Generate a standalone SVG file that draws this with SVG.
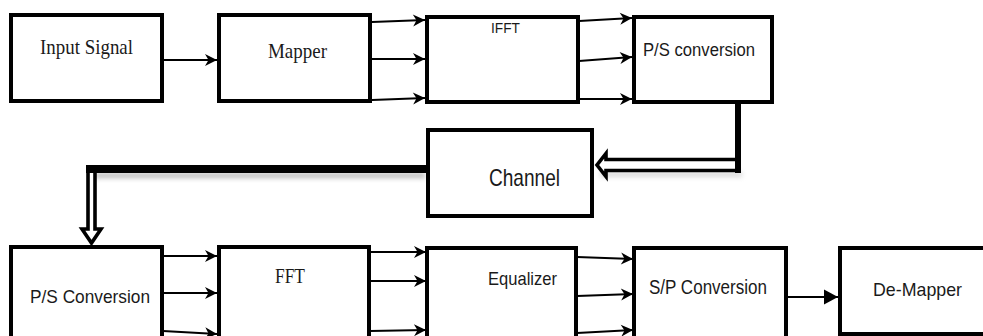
<svg xmlns="http://www.w3.org/2000/svg" width="983" height="336" viewBox="0 0 983 336">
  <defs>
    <style>
      .box { fill: #ffffff; stroke: #000000; stroke-width: 4; }
      .serif { font-family: "Liberation Serif", "Times New Roman", serif; fill: #1a1a1a; }
      .sans { font-family: "Liberation Sans", Arial, sans-serif; fill: #1a1a1a; }
      .wire { fill: none; stroke: #000000; stroke-width: 1.8; marker-end: url(#barb); }
      .wire2 { fill: none; stroke: #000000; stroke-width: 2; marker-end: url(#tri); }
      .hollow { fill: #ffffff; stroke: #000000; stroke-width: 3.6; stroke-linejoin: miter; }
      .bus { fill: none; stroke: #000000; stroke-width: 8; }
    </style>
    <marker id="barb" markerUnits="userSpaceOnUse" markerWidth="13" markerHeight="12" refX="12" refY="6" orient="auto" overflow="visible">
      <path d="M0,0 L12,6 L0,12 L3.5,6 z" fill="#000000"/>
    </marker>
    <marker id="tri" markerUnits="userSpaceOnUse" markerWidth="15" markerHeight="16" refX="14" refY="7.5" orient="auto" overflow="visible">
      <path d="M0,0 L14,7.5 L0,15 z" fill="#000000"/>
    </marker>
    <filter id="shadow" x="-10%" y="-100%" width="120%" height="300%">
      <feGaussianBlur stdDeviation="2.5"/>
    </filter>
  </defs>

  <rect x="0" y="0" width="983" height="336" fill="#ffffff"/>

  <g id="connectors">
    <!-- Input -> Mapper -->
    <path class="wire" d="M163,60 L217,60"/>
    <!-- Mapper -> IFFT -->
    <path class="wire" d="M372,22 L425,20"/>
    <path class="wire" d="M372,59 L425,59"/>
    <path class="wire" d="M372,100 L425,98"/>
    <!-- IFFT -> P/S conversion -->
    <path class="wire" d="M579,21 L632,18"/>
    <path class="wire" d="M579,61 L632,57"/>
    <path class="wire" d="M579,99 L632,99"/>
    <!-- P/S conversion -> Channel (thick + hollow arrow) -->
    <rect x="600" y="172" width="142" height="5" fill="#bbbbbb" filter="url(#shadow)" opacity="0.6"/>
    <path class="hollow" d="M741,159.5 L606,159.5 L606,153.5 L597,165 L606,176.5 L606,170.5 L741,170.5"/>
    <path d="M738,102 L738,173" stroke="#000000" stroke-width="6" fill="none"/>
    <!-- Channel -> P/S Conversion (thick bus + hollow arrow down) -->
    <rect x="95" y="173" width="330" height="5" fill="#999999" filter="url(#shadow)" opacity="0.7"/>
    <path class="hollow" d="M88,170 L88,229 L82,229 L91.5,243 L101,229 L95,229 L95,170"/>
    <path class="bus" d="M86,169 L426,169"/>
    <!-- P/S Conversion -> FFT -->
    <path class="wire" d="M163,256 L217,256"/>
    <path class="wire" d="M163,293 L217,293"/>
    <path class="wire" d="M163,331 L217,334"/>
    <!-- FFT -> Equalizer -->
    <path class="wire" d="M370,252 L426,252"/>
    <path class="wire" d="M370,281 L426,281"/>
    <path class="wire" d="M370,331 L426,330"/>
    <!-- Equalizer -> S/P Conversion -->
    <path class="wire" d="M577,257 L633,259"/>
    <path class="wire" d="M577,296 L633,294"/>
    <path class="wire" d="M577,333 L633,330"/>
    <!-- S/P Conversion -> De-Mapper -->
    <path class="wire2" d="M787,297 L838,297"/>
  </g>

  <g id="node-input-signal">
    <rect class="box" x="11" y="15" width="151" height="86"/>
    <text class="serif" x="40" y="54" font-size="22" textLength="93" lengthAdjust="spacingAndGlyphs">Input Signal</text>
  </g>
  <g id="node-mapper">
    <rect class="box" x="219" y="15" width="151" height="86"/>
    <text class="serif" x="268" y="58" font-size="21" textLength="59" lengthAdjust="spacingAndGlyphs">Mapper</text>
  </g>
  <g id="node-ifft">
    <rect class="box" x="427" y="17" width="151" height="85"/>
    <text class="sans" x="491" y="33" font-size="14" textLength="29" lengthAdjust="spacingAndGlyphs">IFFT</text>
  </g>
  <g id="node-ps-conversion-top">
    <rect class="box" x="634" y="17" width="138" height="85"/>
    <text class="sans" x="643" y="56" font-size="18" textLength="112" lengthAdjust="spacingAndGlyphs">P/S conversion</text>
  </g>
  <g id="node-channel">
    <rect class="box" x="428" y="130" width="164" height="86"/>
    <text class="sans" x="489" y="186" font-size="24" textLength="71" lengthAdjust="spacingAndGlyphs">Channel</text>
  </g>
  <g id="node-ps-conversion-bottom">
    <rect class="box" x="11" y="247" width="151" height="92"/>
    <text class="sans" x="30" y="303" font-size="19" textLength="120" lengthAdjust="spacingAndGlyphs">P/S Conversion</text>
  </g>
  <g id="node-fft">
    <rect class="box" x="219" y="247" width="150" height="92"/>
    <text class="serif" x="275" y="283" font-size="20" textLength="30" lengthAdjust="spacingAndGlyphs">FFT</text>
  </g>
  <g id="node-equalizer">
    <rect class="box" x="427" y="248" width="149" height="91"/>
    <text class="sans" x="488" y="285" font-size="19" textLength="69" lengthAdjust="spacingAndGlyphs">Equalizer</text>
  </g>
  <g id="node-sp-conversion">
    <rect class="box" x="634" y="248" width="152" height="91"/>
    <text class="sans" x="649" y="294" font-size="20" textLength="118" lengthAdjust="spacingAndGlyphs">S/P Conversion</text>
  </g>
  <g id="node-de-mapper">
    <rect class="box" x="840" y="248" width="150" height="86"/>
    <text class="sans" x="873" y="296" font-size="19" textLength="89" lengthAdjust="spacingAndGlyphs">De-Mapper</text>
  </g>
</svg>
